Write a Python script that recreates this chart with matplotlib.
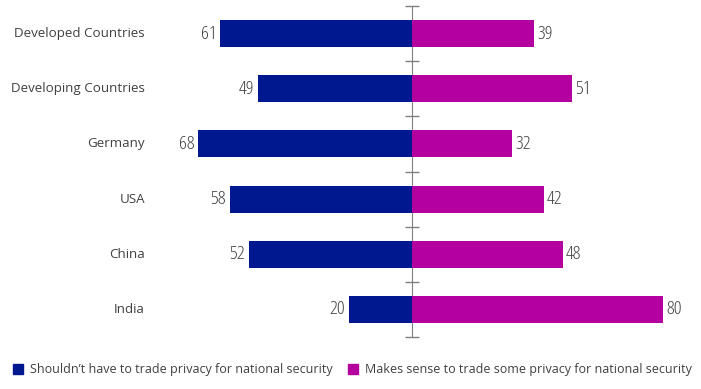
import matplotlib
matplotlib.use("Agg")
import matplotlib.pyplot as plt
from matplotlib.patches import Patch
import numpy as np

categories = ["Developed Countries", "Developing Countries", "Germany", "USA", "China", "India"]
shouldnt = [61, 49, 68, 58, 52, 20]
makes_sense = [39, 51, 32, 42, 48, 80]
series_names = ["Shouldn\u2019t have to trade privacy for national security",
                "Makes sense to trade some privacy for national security"]

BLUE = "#00188F"
MAGENTA = "#B4009E"
plt.rcParams['font.family'] = ['Open Sans', 'DejaVu Sans']

fig = plt.figure(figsize=(7.01, 3.89), dpi=100)
ax = fig.add_axes([160/701, 1-337/389, 540/701, 331/389])

y = np.arange(len(categories))
left = ax.barh(y, [-v for v in shouldnt], height=0.49, color=BLUE)
right = ax.barh(y, makes_sense, height=0.49, color=MAGENTA)

lbl = dict(fontsize=14, color="#404040", fontstretch='condensed', fontweight='medium')
ax.bar_label(left, labels=[str(v) for v in shouldnt], padding=3, **lbl)
ax.bar_label(right, labels=[str(v) for v in makes_sense], padding=2, **lbl)

ax.set_xlim(-(412-160)/3.14, (700-412)/3.14)
ax.set_ylim(len(categories)-0.5, -0.5)

for s in ax.spines.values():
    s.set_visible(False)
ax.spines['left'].set_visible(True)
ax.spines['left'].set_position(('data', 0))
ax.spines['left'].set_color("#808080")
ax.spines['left'].set_zorder(0)
ax.set_xticks([])
ax.set_yticks(np.arange(len(categories)+1) - 0.5)
ax.set_yticklabels([])
ax.tick_params(axis='y', direction='inout', length=10, color="#808080", width=1)

for yi, c in zip(y, categories):
    ax.text(-15/540, yi, c, transform=ax.get_yaxis_transform(), ha='right', va='center',
            fontsize=9.6, color="#404040")

handles = [Patch(color=BLUE), Patch(color=MAGENTA)]
fig.legend(handles, series_names, loc='lower left', bbox_to_anchor=(0.0, 0.0), ncol=2,
           frameon=False, fontsize=9, handlelength=0.8, handleheight=0.8,
           handletextpad=0.6, columnspacing=1.2, labelcolor="#404040",
           borderaxespad=0.6)

fig.savefig("out.png", dpi=100)
